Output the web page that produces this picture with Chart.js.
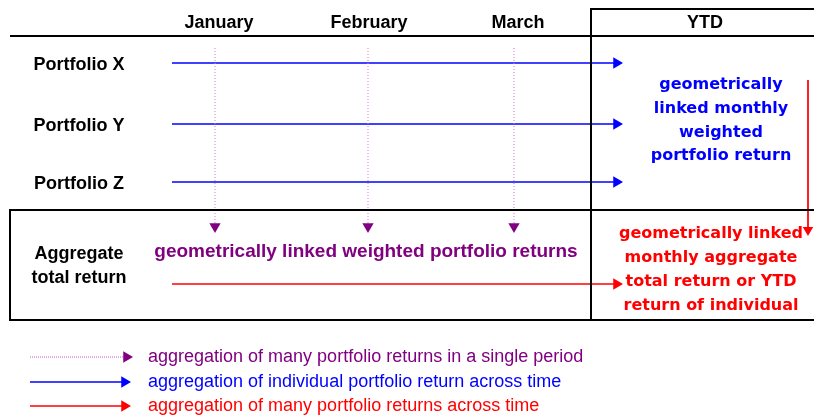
<!DOCTYPE html>
<html>
<head>
<meta charset="utf-8">
<script src="https://cdn.jsdelivr.net/npm/chart.js@4.4.1/dist/chart.umd.min.js"></script>
<style>
  html, body { margin: 0; padding: 0; background: #ffffff; }
  #diagram { display: block; }
</style>
</head>
<body>
<canvas id="diagram" width="814" height="416"></canvas>
<script>
// content of the diagram
let months = ['January', 'February', 'March'];
let ytd_label = 'YTD';
let portfolios = ['Portfolio X', 'Portfolio Y', 'Portfolio Z'];
let aggregate_label = ['Aggregate', 'total return'];
let period_text = 'geometrically linked weighted portfolio returns';
let ytd_blue_text = ['geometrically', 'linked monthly', 'weighted', 'portfolio return'];
let ytd_red_text = ['geometrically linked', 'monthly aggregate', 'total return or YTD', 'return of individual'];
let legend_labels = [
    'aggregation of many portfolio returns in a single period',
    'aggregation of individual portfolio return across time',
    'aggregation of many portfolio returns across time'
];

// layout (diagram units = canvas pixels)
let month_x = [215, 368, 514];
let month_label_x = [219, 369, 518];
let portfolio_y = [63, 124, 182];
let label_x = 79;
let arrow_start = 172, arrow_end = 623;
let ytd_left = 591, right_edge = 816;
let legend_y = [357, 382, 406];

let BLUE = '#0000ff', RED = '#ff0000', PURPLE = '#800080', PINK = '#d27ad2', BLACK = '#000000';

// line from a to tip, with a triangle head whose point sits on tip
let arrow = function(a, tip, color, opts) {
    opts = opts || {};
    let r = opts.head || 6.5;
    let dx = tip.x - a.x, dy = tip.y - a.y;
    let len = Math.sqrt(dx * dx + dy * dy);
    let centre = {x: tip.x - r * dx / len, y: tip.y - r * dy / len};
    return {
        data: [a, centre],
        showLine: true,
        borderColor: color,
        backgroundColor: opts.headColor || color,
        borderWidth: opts.width || 1.5,
        borderDash: opts.dash || [],
        pointStyle: 'triangle',
        pointRadius: [0, r],
        pointRotation: dy > 0 ? 180 : 90,
        pointBorderWidth: 0,
        pointHoverRadius: 0
    };
};

let rule = function(points) {
    return {
        data: points,
        showLine: true,
        borderColor: BLACK,
        borderWidth: 2,
        pointRadius: 0,
        pointHoverRadius: 0
    };
};

let datasets = [];

// frame
datasets.push(rule([{x: 10, y: 36}, {x: right_edge, y: 36}]));
datasets.push(rule([{x: right_edge, y: 9}, {x: ytd_left, y: 9}, {x: ytd_left, y: 320}]));
datasets.push(rule([{x: right_edge, y: 210}, {x: 10, y: 210}, {x: 10, y: 320}, {x: right_edge, y: 320}]));

// single period aggregation (dotted, downwards)
month_x.forEach(function(x) {
    datasets.push(arrow({x: x, y: 48}, {x: x, y: 233}, PINK, {dash: [1, 2], width: 1, headColor: PURPLE, head: 6.5}));
});

// each portfolio across time
portfolio_y.forEach(function(y) {
    datasets.push(arrow({x: arrow_start, y: y}, {x: arrow_end, y: y}, BLUE));
});

// aggregate across time
datasets.push(arrow({x: arrow_start, y: 284}, {x: arrow_end, y: 284}, RED));
datasets.push(arrow({x: 808, y: 80}, {x: 808, y: 236}, RED, {width: 1, head: 6}));

// legend arrows
datasets.push(arrow({x: 30, y: legend_y[0]}, {x: 133, y: legend_y[0]}, PINK, {dash: [1, 1], width: 1.2, headColor: PURPLE}));
datasets.push(arrow({x: 30, y: legend_y[1]}, {x: 131, y: legend_y[1]}, BLUE));
datasets.push(arrow({x: 30, y: legend_y[2]}, {x: 131, y: legend_y[2]}, RED));

let SANS = '"Liberation Sans", Arial, sans-serif';
let WIDE = '"DejaVu Sans", Verdana, sans-serif';

let textPlugin = {
    id: 'diagram_text',
    afterDatasetsDraw: function(chart) {
        let ctx = chart.ctx;
        let sx = chart.scales.x, sy = chart.scales.y;
        let put = function(str, x, y, font, color, align) {
            ctx.font = font;
            ctx.fillStyle = color;
            ctx.textAlign = align || 'center';
            ctx.textBaseline = 'middle';
            ctx.fillText(str, sx.getPixelForValue(x), sy.getPixelForValue(y));
        };
        ctx.save();
        months.forEach((m, i) => put(m, month_label_x[i], 23, 'bold 18px ' + SANS, BLACK));
        put(ytd_label, 705, 23, 'bold 18px ' + SANS, BLACK);
        portfolios.forEach((p, i) => put(p, label_x, portfolio_y[i] + 2, 'bold 18px ' + SANS, BLACK));
        put(aggregate_label[0], label_x, 254, 'bold 18px ' + SANS, BLACK);
        put(aggregate_label[1], label_x, 278, 'bold 18px ' + SANS, BLACK);
        put(period_text, 366, 252, 'bold 19px ' + SANS, PURPLE);
        ytd_blue_text.forEach((t, i) => put(t, 721, 85 + i * 23.7, 'bold 16px ' + WIDE, BLUE));
        ytd_red_text.forEach((t, i) => put(t, 711, 234 + i * 24, 'bold 16px ' + WIDE, RED));
        put(legend_labels[0], 148, legend_y[0], '18px ' + SANS, PURPLE, 'left');
        put(legend_labels[1], 148, legend_y[1], '18px ' + SANS, BLUE, 'left');
        put(legend_labels[2], 148, legend_y[2], '18px ' + SANS, RED, 'left');
        ctx.restore();
    }
};

new Chart(document.getElementById('diagram'), {
    type: 'scatter',
    data: { datasets: datasets },
    options: {
        responsive: false,
        animation: false,
        layout: { padding: 0, autoPadding: false },
        plugins: {
            legend: { display: false },
            tooltip: { enabled: false }
        },
        scales: {
            x: { type: 'linear', min: 0, max: 814, display: false },
            y: { type: 'linear', min: 0, max: 416, reverse: true, display: false }
        }
    },
    plugins: [textPlugin]
});
</script>
</body>
</html>
